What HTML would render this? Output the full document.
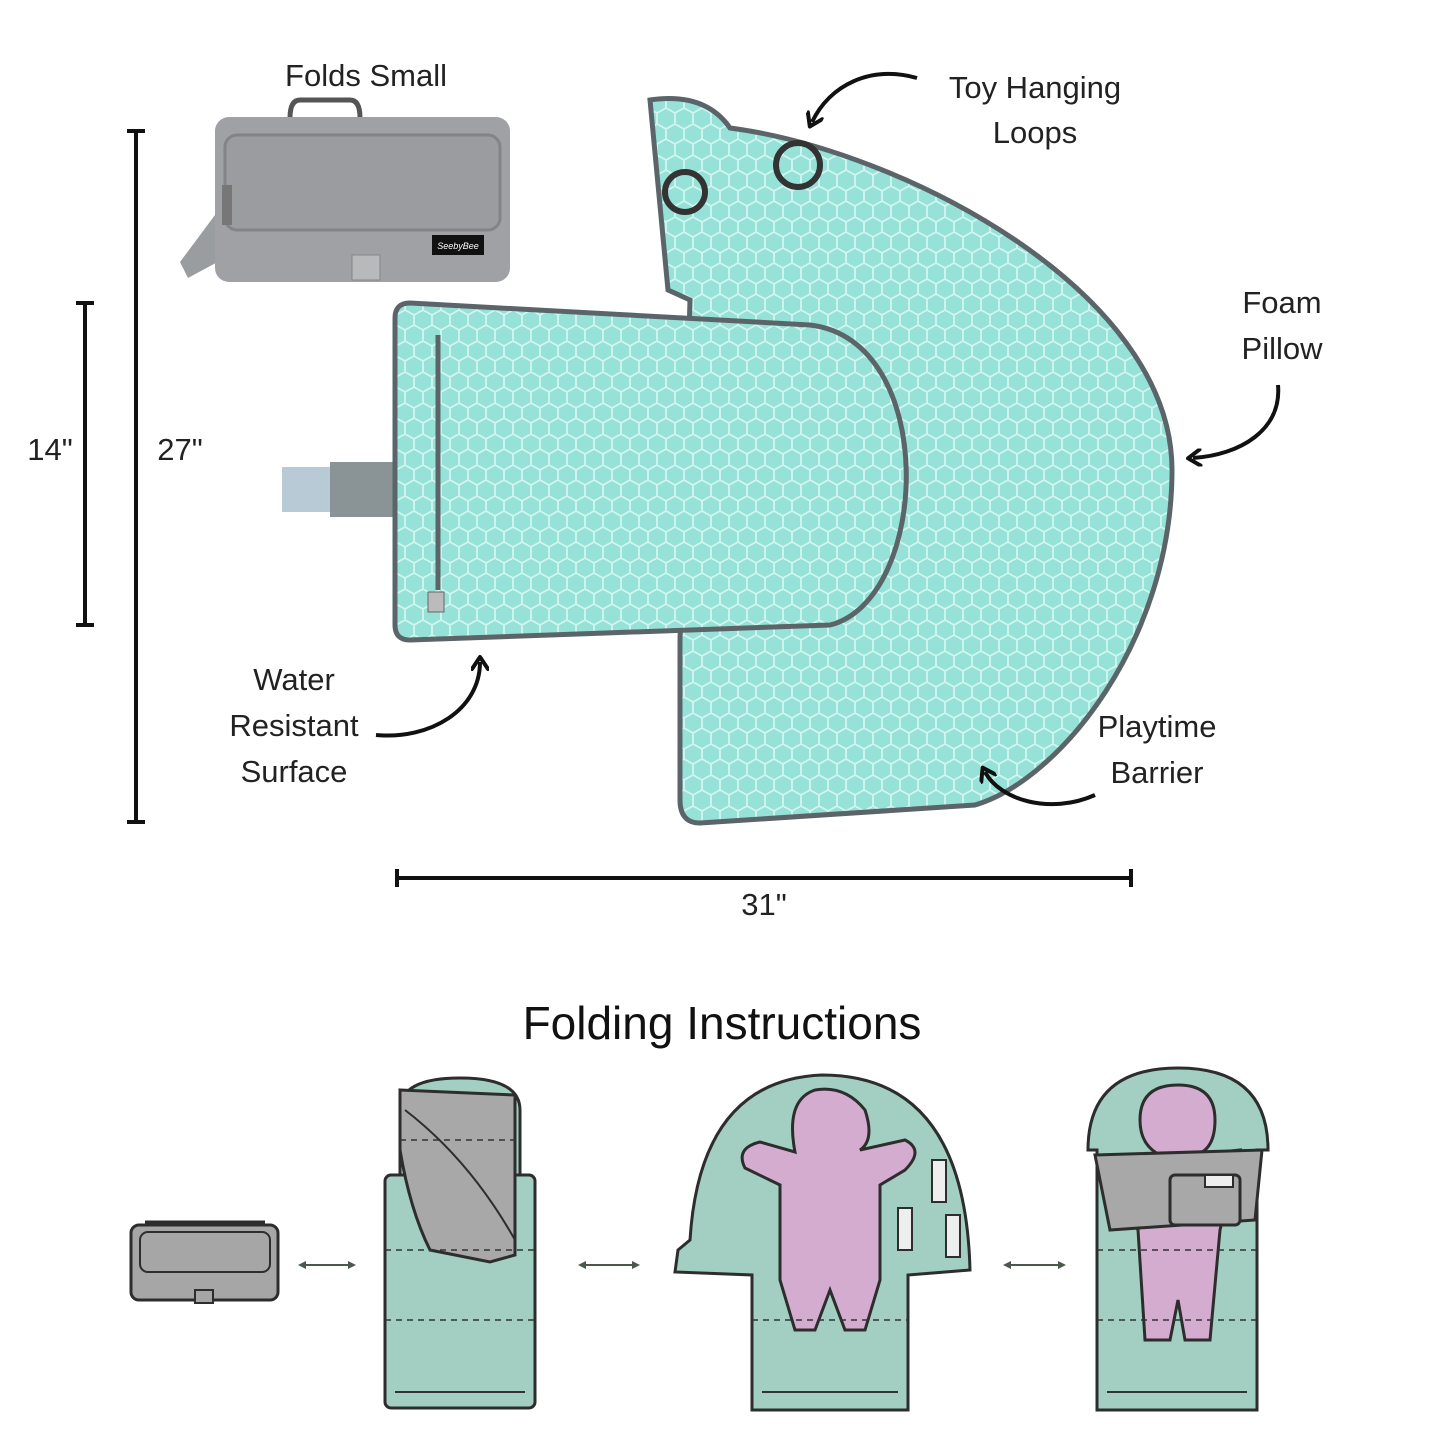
<!DOCTYPE html>
<html><head><meta charset="utf-8"><style>
html,body{margin:0;padding:0;background:#fff;}
svg{display:block;font-family:"Liberation Sans",sans-serif;}
.l{font-size:31px;fill:#222;}
</style></head><body>
<svg width="1445" height="1445" viewBox="0 0 1445 1445" xmlns="http://www.w3.org/2000/svg">
<defs>
<pattern id="hex" width="18" height="31" patternUnits="userSpaceOnUse">
<rect width="18" height="31" fill="#96e2d8"/>
<path d="M0,5 L9,0 L18,5 M0,5 V15 L9,20 L18,15 V5 M9,20 V31" fill="none" stroke="#d2f5f0" stroke-width="1.8"/>
</pattern>
<marker id="ah" markerWidth="18" markerHeight="18" refX="9" refY="9" orient="auto" markerUnits="userSpaceOnUse" viewBox="0 0 18 18">
<path d="M2,1 L14,9 L2,17" fill="none" stroke="#111" stroke-width="4" stroke-linecap="round" stroke-linejoin="round"/>
</marker>
<marker id="dh" markerWidth="8" markerHeight="8" refX="4" refY="4" orient="auto-start-reverse" markerUnits="userSpaceOnUse" viewBox="0 0 8 8">
<path d="M0,0 L8,4 L0,8Z" fill="#4a5a4a"/>
</marker>
</defs>

<!-- Folds small bag -->
<text x="366" y="86" class="l" text-anchor="middle">Folds Small</text>
<path d="M290,118 Q290,100 300,100 L350,100 Q360,100 360,118" fill="none" stroke="#555" stroke-width="5"/>
<path d="M215,215 L180,262 L188,278 L225,258Z" fill="#9a9da0"/>
<rect x="215" y="117" width="295" height="165" rx="14" fill="#9fa1a4"/>
<rect x="225" y="135" width="275" height="95" rx="12" fill="#9a9c9f" stroke="#828588" stroke-width="3"/>
<rect x="352" y="255" width="28" height="25" fill="#b7b9bb" stroke="#888" stroke-width="1"/>
<rect x="432" y="235" width="52" height="20" fill="#111"/>
<text x="458" y="249" font-size="9" fill="#fff" text-anchor="middle" font-style="italic">SeebyBee</text>
<rect x="222" y="185" width="10" height="40" fill="#777"/>

<!-- dimension lines -->
<g stroke="#111" stroke-width="4">
<line x1="136" y1="131" x2="136" y2="822"/><line x1="127" y1="131" x2="145" y2="131"/><line x1="127" y1="822" x2="145" y2="822"/>
<line x1="85" y1="303" x2="85" y2="625"/><line x1="76" y1="303" x2="94" y2="303"/><line x1="76" y1="625" x2="94" y2="625"/>
<line x1="397" y1="878" x2="1131" y2="878"/><line x1="397" y1="869" x2="397" y2="887"/><line x1="1131" y1="869" x2="1131" y2="887"/>
</g>
<text x="50" y="460" class="l" text-anchor="middle">14"</text>
<text x="180" y="460" class="l" text-anchor="middle">27"</text>
<text x="764" y="915" class="l" text-anchor="middle">31"</text>

<!-- mat -->
<path d="M650,100 Q705,92 730,128 C900,150 1172,290 1172,470 C1172,640 1060,780 975,805 L700,823 Q680,823 680,800 L680,640 L690,300 L668,290 Z" fill="url(#hex)" stroke="#5b6569" stroke-width="5"/>
<rect x="282" y="467" width="50" height="45" fill="#b8cad6"/>
<rect x="330" y="462" width="70" height="55" fill="#8a9396"/>
<path d="M410,303 L810,325 C940,340 930,600 830,625 L410,640 Q395,640 395,625 L395,318 Q395,303 410,303Z" fill="url(#hex)" stroke="#5b6569" stroke-width="5"/>
<line x1="438" y1="335" x2="438" y2="590" stroke="#5b6569" stroke-width="5"/>
<rect x="428" y="592" width="16" height="20" fill="#bbb" stroke="#666"/>
<circle cx="798" cy="165" r="22" fill="none" stroke="#333" stroke-width="6"/>
<circle cx="685" cy="192" r="20" fill="none" stroke="#333" stroke-width="6"/>

<!-- labels + arrows -->
<text x="1035" y="98" class="l" text-anchor="middle">Toy Hanging</text>
<text x="1035" y="143" class="l" text-anchor="middle">Loops</text>
<path d="M917,78 C870,65 830,85 812,122" fill="none" stroke="#111" stroke-width="4" marker-end="url(#ah)"/>
<text x="1282" y="313" class="l" text-anchor="middle">Foam</text>
<text x="1282" y="359" class="l" text-anchor="middle">Pillow</text>
<path d="M1278,385 C1282,430 1240,455 1193,458" fill="none" stroke="#111" stroke-width="4" marker-end="url(#ah)"/>
<text x="294" y="690" class="l" text-anchor="middle">Water</text>
<text x="294" y="736" class="l" text-anchor="middle">Resistant</text>
<text x="294" y="782" class="l" text-anchor="middle">Surface</text>
<path d="M376,735 C430,740 480,710 480,662" fill="none" stroke="#111" stroke-width="4" marker-end="url(#ah)"/>
<text x="1157" y="737" class="l" text-anchor="middle">Playtime</text>
<text x="1157" y="783" class="l" text-anchor="middle">Barrier</text>
<path d="M1095,795 C1050,815 1000,800 985,772" fill="none" stroke="#111" stroke-width="4" marker-end="url(#ah)"/>

<text x="722" y="1039" font-size="46" fill="#111" text-anchor="middle">Folding Instructions</text>

<g stroke="#2d2d2d" stroke-width="3">
<path d="M145,1222 L265,1222" fill="none"/>
<rect x="131" y="1225" width="147" height="75" rx="8" fill="#a6a6a6"/>
<rect x="140" y="1232" width="130" height="40" rx="8" fill="#a6a6a6" stroke-width="2"/>
<rect x="195" y="1290" width="18" height="13" fill="#a6a6a6" stroke-width="2"/>
<path d="M400,1175 L400,1110 Q400,1078 460,1078 Q520,1078 520,1110 L520,1175" fill="#a3cfc2"/>
<rect x="385" y="1175" width="150" height="233" rx="6" fill="#a3cfc2"/>
<path d="M400,1090 L515,1095 L515,1255 L490,1262 L430,1250 Q410,1210 400,1150Z" fill="#a8a8a8"/>
<path d="M405,1110 Q470,1160 515,1240" fill="none" stroke-width="2"/>
<path d="M752,1275 L752,1410 L908,1410 L908,1275 L970,1270 Q965,1075 822,1075 Q700,1080 690,1240 L678,1250 L675,1272Z" fill="#a3cfc2"/>
<path d="M815,1090 Q845,1085 865,1110 Q875,1140 860,1150 L905,1140 Q925,1150 905,1170 L880,1185 L880,1280 L865,1330 L845,1330 L830,1290 L815,1330 L795,1330 L780,1280 L780,1185 L745,1168 Q735,1148 760,1142 L795,1152 Q785,1100 815,1090Z" fill="#d3acd0"/>
<rect x="898" y="1208" width="14" height="42" fill="#eee" stroke-width="2"/>
<rect x="932" y="1160" width="14" height="42" fill="#eee" stroke-width="2"/>
<rect x="946" y="1215" width="14" height="42" fill="#eee" stroke-width="2"/>
<path d="M1088,1150 Q1088,1068 1178,1068 Q1268,1068 1268,1150 L1257,1150 L1257,1410 L1097,1410 L1097,1150Z" fill="#a3cfc2"/>
<path d="M1178,1085 Q1215,1085 1215,1120 Q1215,1150 1195,1155 L1240,1150 L1220,1230 L1210,1340 L1185,1340 L1178,1300 L1170,1340 L1145,1340 L1138,1230 L1100,1160 L1160,1155 Q1140,1145 1140,1120 Q1140,1085 1178,1085Z" fill="#d3acd0"/>
<path d="M1095,1155 L1262,1150 L1255,1220 L1110,1230Z" fill="#a8a8a8"/>
<rect x="1170" y="1175" width="70" height="50" rx="5" fill="#a8a8a8"/>
<rect x="1205" y="1175" width="28" height="12" fill="#eee" stroke-width="2"/>
</g>
<g stroke="#333" stroke-width="1.5" stroke-dasharray="6,5" fill="none">
<line x1="400" y1="1140" x2="520" y2="1140"/><line x1="385" y1="1250" x2="535" y2="1250"/><line x1="385" y1="1320" x2="535" y2="1320"/>
<line x1="752" y1="1320" x2="908" y2="1320"/><line x1="1097" y1="1250" x2="1257" y2="1250"/><line x1="1097" y1="1320" x2="1257" y2="1320"/>
</g>
<g stroke="#333" stroke-width="2"><line x1="395" y1="1392" x2="525" y2="1392"/><line x1="762" y1="1392" x2="898" y2="1392"/><line x1="1107" y1="1392" x2="1247" y2="1392"/></g>
<g stroke="#4a5a4a" stroke-width="2">
<line x1="302" y1="1265" x2="352" y2="1265" marker-start="url(#dh)" marker-end="url(#dh)"/>
<line x1="582" y1="1265" x2="636" y2="1265" marker-start="url(#dh)" marker-end="url(#dh)"/>
<line x1="1007" y1="1265" x2="1062" y2="1265" marker-start="url(#dh)" marker-end="url(#dh)"/>
</g>
</svg>
</body></html>
